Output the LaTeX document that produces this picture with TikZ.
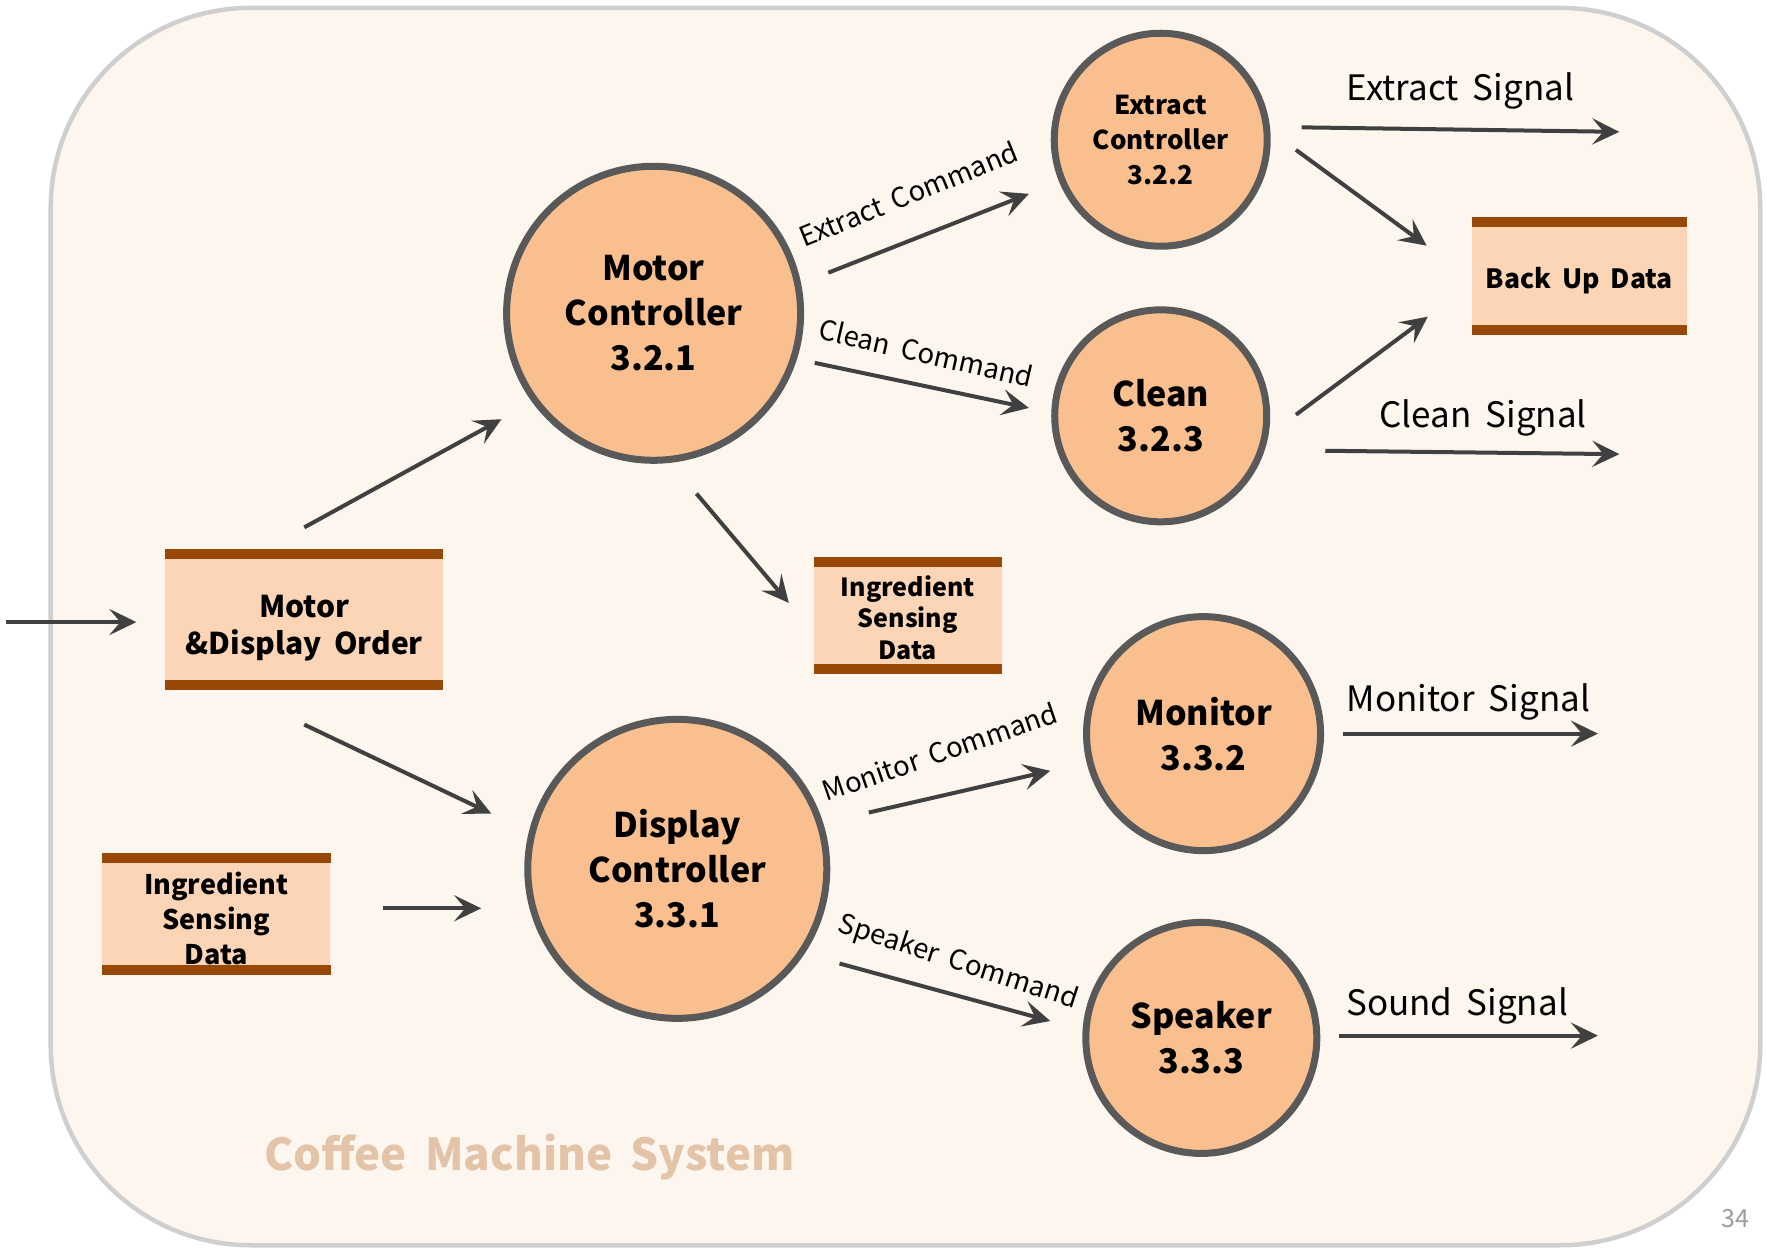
\documentclass[tikz,border=0pt]{standalone}
\usepackage{fontspec}
\setmainfont[WordSpace=1.8]{Noto Sans CJK KR}
\usetikzlibrary{arrows.meta}
\definecolor{pagebg}{HTML}{FCF6EF}
\definecolor{frame}{HTML}{CFCFCF}
\definecolor{procfill}{HTML}{F9BF8F}
\definecolor{procline}{HTML}{595959}
\definecolor{storefill}{HTML}{FBD5B5}
\definecolor{storebar}{HTML}{974806}
\definecolor{flow}{HTML}{404040}
\definecolor{titlecol}{HTML}{E3C4A8}
\definecolor{pagenum}{HTML}{9C9C9C}
\tikzset{
  proc/.style={circle, draw=procline, line width=7pt, fill=procfill, align=center,
    font=\fontsize{34}{45}\selectfont\bfseries, inner sep=0pt},
  smallproc/.style={proc, font=\fontsize{26}{35}\selectfont\bfseries},
  store/.style={fill=storefill, inner sep=0pt},
  storetext/.style={align=center, inner sep=0pt},
  bar/.style={draw=storebar, line width=10pt},
  flowarrow/.style={draw=flow, line width=4pt,
    -{Stealth[length=27pt, width=26pt, inset=11pt]}},
  cmd/.style={font=\fontsize{27.5}{30}\selectfont, inner sep=0pt},
  sig/.style={font=\fontsize{35}{40}\selectfont, inner sep=0pt},
}
\begin{document}
\begin{tikzpicture}[x=1.12691pt, y=-1.12691pt]
\useasboundingbox (0,0) rectangle (1568,1108);
% system boundary
\draw[frame, line width=4.5pt, fill=pagebg, rounded corners=200pt] (45,7) rectangle (1562,1105);

% processes
\node[proc, minimum size=294pt] (mc) at (580,278) {Motor\\Controller\\3.2.1};
\node[smallproc, minimum size=213pt] (ec) at (1030,124) {Extract\\Controller\\3.2.2};
\node[proc, minimum size=212pt] (cl) at (1030,369) {Clean\\3.2.3};
\node[proc, minimum size=299pt] (dc) at (601,771) {Display\\Controller\\3.3.1};
\node[proc, minimum size=234pt] (mo) at (1068,651) {Monitor\\3.3.2};
\node[proc, minimum size=231pt] (sp) at (1066,921) {Speaker\\3.3.3};

% data stores: fill between two bars, text set on top
\node[store, minimum width=278pt, minimum height=131pt] (ord) at (270,549.5) {};
\node[store, minimum width=188pt, minimum height=107pt] (isdm) at (805.5,546) {};
\node[store, minimum width=228pt, minimum height=112pt] (isdl) at (192,811) {};
\node[store, minimum width=215pt, minimum height=107pt] (bud) at (1401.5,245) {};
\foreach \s in {ord,isdm,isdl,bud}{
  \draw[bar] (\s.north west) -- (\s.north east);
  \draw[bar] (\s.south west) -- (\s.south east);
}
\node[storetext, font=\fontsize{30}{37}\selectfont\bfseries] (ordt) at (270,557.5) {Motor\\\&Display Order};
\node[storetext, font=\fontsize{25}{31.5}\selectfont\bfseries] (isdmt) at (805.5,548) {Ingredient\\Sensing\\Data};
\node[storetext, font=\fontsize{27}{35}\selectfont\bfseries] (isdlt) at (192,815) {Ingredient\\Sensing\\Data};
\node[storetext, font=\fontsize{26.5}{30}\selectfont\bfseries] (budt) at (1401.5,249) {Back Up Data};

% flow end points
\coordinate (in0) at (5,552);     \coordinate (in1) at (121,552);
\coordinate (o1) at (270,468);    \coordinate (mc1) at (445,372);
\coordinate (o2) at (270,643);    \coordinate (dc1) at (436,722);
\coordinate (l1) at (340,806);    \coordinate (dc2) at (427,806);
\coordinate (mc2) at (618,438);   \coordinate (im1) at (700,535);
\coordinate (mc3) at (735,242);   \coordinate (ec1) at (913,172);
\coordinate (mc4) at (723,322);   \coordinate (cl1) at (913,362);
\coordinate (ec2) at (1150,133);  \coordinate (bu1) at (1266,218);
\coordinate (cl2) at (1150,368);  \coordinate (bu2) at (1267,281);
\coordinate (ec3) at (1155,113);  \coordinate (xo1) at (1437,117);
\coordinate (cl3) at (1176,400);  \coordinate (xo2) at (1437,403);
\coordinate (dc3) at (771,721);   \coordinate (mo1) at (932,684);
\coordinate (dc4) at (745,855);   \coordinate (sp1) at (932,906);
\coordinate (mo2) at (1192,651);  \coordinate (xo3) at (1418,651);
\coordinate (sp2) at (1188,919);  \coordinate (xo4) at (1418,919);

% data flows
\draw[flowarrow] (in0) -- (in1);
\draw[flowarrow] (o1) -- (mc1);
\draw[flowarrow] (o2) -- (dc1);
\draw[flowarrow] (l1) -- (dc2);
\draw[flowarrow] (mc2) -- (im1);
\draw[flowarrow] (mc3) -- (ec1);
\draw[flowarrow] (mc4) -- (cl1);
\draw[flowarrow] (ec2) -- (bu1);
\draw[flowarrow] (cl2) -- (bu2);
\draw[flowarrow] (ec3) -- (xo1);
\draw[flowarrow] (cl3) -- (xo2);
\draw[flowarrow] (dc3) -- (mo1);
\draw[flowarrow] (dc4) -- (sp1);
\draw[flowarrow] (mo2) -- (xo3);
\draw[flowarrow] (sp2) -- (xo4);

% flow labels
\node[cmd, rotate=22] (lx) at (806,172) {Extract Command};
\node[cmd, rotate=-13] (lc) at (822,313) {Clean Command};
\node[cmd, rotate=19] (lm) at (834,667) {Monitor Command};
\node[cmd, rotate=-18] (ls) at (850,854) {Speaker Command};
\node[sig] (sx) at (1296,81) {Extract Signal};
\node[sig] (sc) at (1316,371) {Clean Signal};
\node[sig] (sm) at (1303,623) {Monitor Signal};
\node[sig] (ss) at (1293,893) {Sound Signal};

% caption and page number
\node[text=titlecol, font=\fontsize{44}{52}\selectfont\bfseries] (title) at (470,1027) {Coffee Machine System};
\node[text=pagenum, font=\fontsize{25}{28}\selectfont] (pg) at (1540,1081) {34};
\end{tikzpicture}
\end{document}
